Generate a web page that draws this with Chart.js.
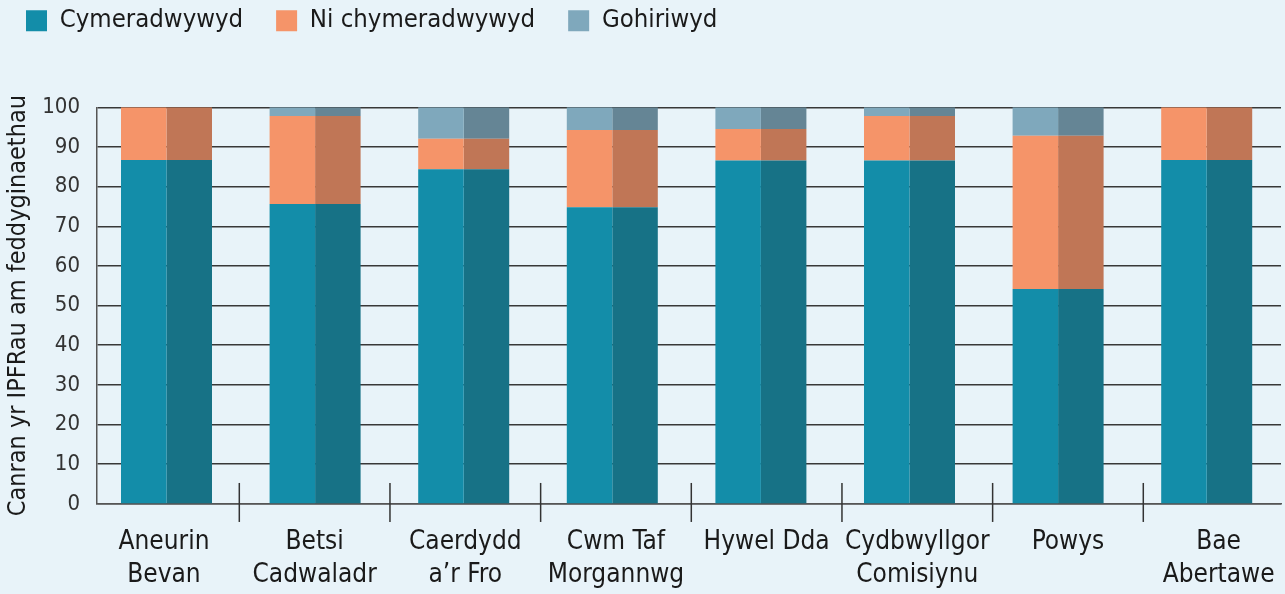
<!DOCTYPE html>
<html><head><meta charset="utf-8">
<script src="https://cdn.jsdelivr.net/npm/chart.js@4/dist/chart.umd.min.js"></script>
<style>html,body{margin:0;padding:0;background:#e8f3f9;} #wrap{width:1285px;height:594px;position:relative;}</style>
</head><body><div id="wrap"><canvas id="c"></canvas></div>
<script>
const categories = [['Aneurin','Bevan'],['Betsi','Cadwaladr'],['Caerdydd','a’r Fro'],['Cwm Taf','Morgannwg'],['Hywel Dda'],['Cydbwyllgor','Comisiynu'],['Powys'],['Bae','Abertawe']];
const seriesNames = ['Cymeradwywyd','Ni chymeradwywyd','Gohiriwyd'];
const approved    = [86.7, 75.6, 84.4, 74.8, 86.6, 86.6, 54.2, 86.7];
const notApproved = [13.3, 22.2, 7.7, 19.5, 7.9, 11.2, 38.6, 13.3];
const deferred    = [0, 2.2, 7.9, 5.7, 5.5, 2.2, 7.2, 0];
const yTicks = [0,10,20,30,40,50,60,70,80,90,100];

const FONT = "'Liberation Sans Narrow','DejaVu Sans Condensed','Roboto Condensed','Open Sans Condensed','Noto Sans',sans-serif";
const lightColors = ['#138da9','#f59469','#7fa8bc'];
const darkColors  = ['#177286','#c07656','#658595'];
const series = [approved, notApproved, deferred];

const datasets = [];
series.forEach((vals, s) => datasets.push({label: seriesNames[s], data: vals.map((v,i)=>({x:i,y:v})), backgroundColor: lightColors[s], stack: 'a', xAxisID: 'x', borderWidth: 0}));
series.forEach((vals, s) => datasets.push({label: seriesNames[s] + ' ', data: vals.map((v,i)=>({x:i,y:v})), backgroundColor: darkColors[s], stack: 'b', xAxisID: 'x', borderWidth: 0}));

const separators = {
  id: 'separators',
  afterDraw(chart) {
    const sc = chart.scales.x2, ctx = chart.ctx, b = chart.chartArea.bottom;
    ctx.save();
    ctx.strokeStyle = '#333'; ctx.lineWidth = 1.5;
    for (let i = 1; i < categories.length; i++) {
      const px = sc.getPixelForValue(i);
      ctx.beginPath(); ctx.moveTo(px, b - 21); ctx.lineTo(px, b + 18); ctx.stroke();
    }
    ctx.restore();
  }
};

new Chart(document.getElementById('c'), {
  type: 'bar',
  data: {datasets},
  plugins: [separators],
  options: {
    responsive: true, maintainAspectRatio: false, animation: false,
    layout: {padding: {left: -7, right: 4, top: -25, bottom: -20}},
    datasets: {bar: {categoryPercentage: 0.6124, barPercentage: 1}},
    plugins: {
      tooltip: {enabled: false},
      legend: {position: 'top', align: 'start',
        labels: {filter: it => it.datasetIndex < 3, boxWidth: 21, boxHeight: 21, padding: 33, color: '#1a1a1a', font: {family: FONT, size: 25.5}}},
      subtitle: {display: true, text: '', weight: 500, padding: {top: 0, bottom: 0}, font: {size: 53.17, lineHeight: 1.2}}
    },
    scales: {
      x: {type: 'linear', display: false, offset: false, min: -0.4677, max: 7.5, ticks: {stepSize: 1, includeBounds: false}, grid: {display: false}},
      x2: {type: 'linear', position: 'bottom', offset: false, min: 0.0555, max: 7.914,
        afterBuildTicks: sc => { sc.ticks = categories.map((_, i) => ({value: i + 0.5})); },
        afterFit: sc => { sc.paddingLeft = 0; sc.paddingRight = 0; },
        ticks: {callback: (v, i) => categories[i], autoSkip: false, maxRotation: 0, minRotation: 0, padding: 22, color: '#1a1a1a', font: {family: FONT, size: 26, lineHeight: 1.27}},
        grid: {display: false, drawTicks: false}, border: {display: true, color: '#555', width: 1.5}},
      y: {min: 0, max: 100, stacked: true,
        afterBuildTicks: sc => { sc.ticks = yTicks.map(v => ({value: v})); },
        afterFit: sc => { sc.width = 104; },
        ticks: {padding: 17, color: '#333', font: {family: FONT, size: 22}},
        grid: {color: '#383838', lineWidth: 1.6, drawTicks: false},
        border: {display: true, color: '#555', width: 1.5},
        title: {display: true, text: 'Canran yr IPFRau am feddyginaethau', color: '#1a1a1a', padding: {top: 10, bottom: 0}, font: {family: FONT, size: 25, lineHeight: 1.2}}}
    }
  }
});
</script></body></html>
